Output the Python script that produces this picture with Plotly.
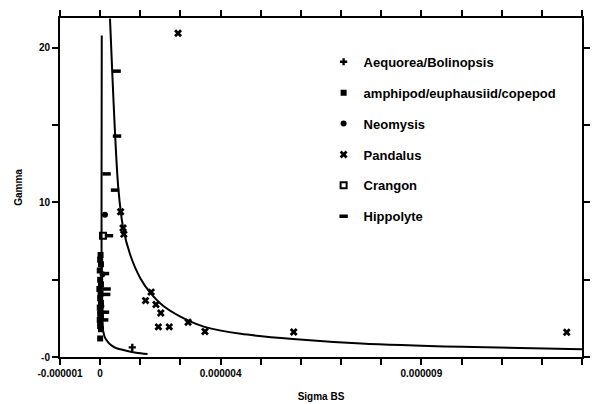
import plotly.graph_objects as go

# ---- data (Sigma BS, Gamma) ----
aeq_x = [0.80e-6]
aeq_y = [0.62]

amph_x = [0.01e-6, 0.0, 0.02e-6, -0.01e-6, 0.0, 0.02e-6, -0.02e-6, 0.01e-6, 0.0,
          0.02e-6, -0.01e-6, 0.01e-6, 0.0, 0.02e-6, -0.01e-6, 0.01e-6, 0.0, 0.02e-6, 0.0]
amph_y = [6.6, 6.3, 6.0, 5.6, 5.0, 4.7, 4.4, 4.1, 3.8, 3.5, 3.2, 3.0, 2.8, 2.6,
          2.4, 2.2, 2.0, 1.8, 1.2]

neo_x = [0.12e-6, 0.06e-6, 0.03e-6]
neo_y = [9.2, 5.35, 3.3]

pand_x = [1.94e-6, 0.51e-6, 0.57e-6, 0.59e-6, 1.27e-6, 1.13e-6, 1.39e-6, 1.51e-6,
          1.45e-6, 1.72e-6, 2.19e-6, 2.61e-6, 4.82e-6, 11.62e-6]
pand_y = [20.95, 9.4, 8.35, 7.95, 4.2, 3.65, 3.4, 2.85, 1.95, 1.95, 2.25, 1.65,
          1.62, 1.6]

cran_x = [0.07e-6]
cran_y = [7.85]

hipp_x = [0.41e-6, 0.42e-6, 0.16e-6, 0.37e-6, 0.22e-6, 0.12e-6, 0.16e-6, 0.15e-6,
          0.12e-6, 0.10e-6]
hipp_y = [18.5, 14.3, 11.85, 10.8, 7.85, 5.4, 4.4, 4.05, 2.9, 2.4]

# fitted curves
fitA_x = [0.04e-6, 0.035e-6, 0.035e-6, 0.04e-6, 0.05e-6, 0.074e-6, 0.12e-6, 0.2e-6,
          0.3e-6, 0.4e-6, 0.65e-6, 0.9e-6, 1.18e-6]
fitA_y = [20.8, 12.0, 6.0, 3.0, 2.2, 1.7, 1.25, 0.95, 0.72, 0.57, 0.41, 0.28, 0.19]

fitB_x = [0.245e-6, 0.3e-6, 0.37e-6, 0.45e-6, 0.57e-6, 0.75e-6, 1.0e-6, 1.25e-6,
          1.6e-6, 2.2e-6, 2.6e-6, 3.5e-6, 4.8e-6, 6.5e-6, 9.0e-6, 12.0e-6]
fitB_y = [21.9, 18.5, 14.5, 11.0, 8.4, 6.6, 5.1, 4.15, 3.25, 2.35, 1.95, 1.5,
          1.17, 0.88, 0.66, 0.5]

# axis ticks
x_tickvals = [i * 1e-6 for i in range(-1, 13)]
x_ticktext = ["-0.000001", "0", "", "", "0.000004", "", "", "", "",
              "0.000009", "", "", "", ""]
y_tickvals = [0, 5, 10, 15, 20]
y_ticktext = ["-0", "", "10", "", "20"]

FONT = "Liberation Sans"

fig = go.Figure()

fig.add_trace(go.Scatter(x=fitA_x, y=fitA_y, mode="lines", showlegend=False,
                         line=dict(color="black", width=2, shape="spline", smoothing=0.8),
                         hoverinfo="skip"))
fig.add_trace(go.Scatter(x=fitB_x, y=fitB_y, mode="lines", showlegend=False,
                         line=dict(color="black", width=2, shape="spline", smoothing=0.8),
                         hoverinfo="skip"))

series = [
    ("Aequorea/Bolinopsis", aeq_x, aeq_y, dict(symbol="cross", size=6, color="black")),
    ("amphipod/euphausiid/copepod", amph_x, amph_y, dict(symbol="square", size=6, color="black")),
    ("Neomysis", neo_x, neo_y, dict(symbol="circle", size=6, color="black")),
    ("Pandalus", pand_x, pand_y, dict(symbol="x", size=7, color="black")),
    ("Crangon", cran_x, cran_y, dict(symbol="square-open", size=6, color="black",
                                     line=dict(width=2, color="black"))),
    ("Hippolyte", hipp_x, hipp_y, dict(symbol="line-ew", size=6, color="black",
                                       line=dict(width=3.5, color="black"))),
]
for i, (name, xs, ys, mk) in enumerate(series):
    fig.add_trace(go.Scatter(x=xs, y=ys, mode="markers", name=name, marker=mk,
                             legendgroup=f"g{i}"))

axis_common = dict(showline=True, linecolor="black", linewidth=2, mirror="ticks",
                   ticks="outside", ticklen=6, tickwidth=2, tickcolor="black",
                   showgrid=False, zeroline=False,
                   tickfont=dict(family=FONT, size=10, color="black", weight="bold"))

fig.update_layout(
    width=593, height=404,
    margin=dict(l=60, r=3, t=18, b=46),
    paper_bgcolor="white", plot_bgcolor="white",
    font=dict(family=FONT, color="black"),
    xaxis=dict(range=[-1e-6, 1.2e-5], tickmode="array", tickvals=x_tickvals,
               ticktext=x_ticktext,
               title=dict(text="Sigma BS", standoff=15,
                          font=dict(family=FONT, size=10, color="black", weight="bold")),
               **axis_common),
    yaxis=dict(range=[0, 21.94], tickmode="array", tickvals=y_tickvals,
               ticktext=y_ticktext,
               title=dict(text="Gamma", standoff=14,
                          font=dict(family=FONT, size=10, color="black", weight="bold")),
               **axis_common),
    legend=dict(x=0.505, y=0.915, xanchor="left", yanchor="top",
                bgcolor="rgba(0,0,0,0)", borderwidth=0,
                font=dict(family=FONT, size=13, color="black", weight="bold"),
                traceorder="grouped", tracegroupgap=11, itemwidth=30),
    showlegend=True,
)

fig.write_html("out.html")
